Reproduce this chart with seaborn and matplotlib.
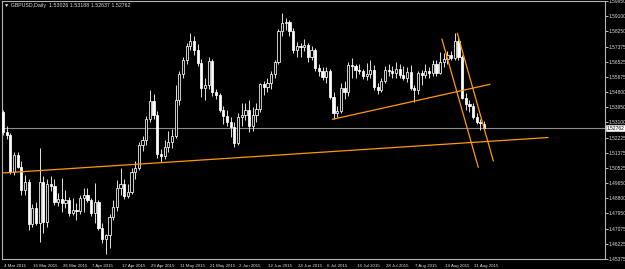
import matplotlib
matplotlib.use("Agg")
import matplotlib.pyplot as plt
import matplotlib.transforms as mtransforms
import seaborn as sns
import numpy as np
import pandas as pd

# ---- data (GBPUSD daily, 4 Mar 2015 .. 3 Sep 2015) ----
opens = [1.5368, 1.5255, 1.5238, 1.5030, 1.5125, 1.5060, 1.4930, 1.4975, 1.4735, 1.4825,
         1.4740, 1.4975, 1.4745, 1.4960, 1.4950, 1.4860, 1.4875, 1.4855, 1.4870, 1.4800,
         1.4815, 1.4810, 1.4880, 1.4900, 1.4870, 1.4800, 1.4860, 1.4712, 1.4650, 1.4673,
         1.4775, 1.4830, 1.4938, 1.4960, 1.4895, 1.4915, 1.5030, 1.5050, 1.5180, 1.5210,
         1.5328, 1.5430, 1.5350, 1.5130, 1.5120, 1.5170, 1.5200, 1.5230, 1.5435, 1.5583,
         1.5662, 1.5740, 1.5769, 1.5718, 1.5645, 1.5503, 1.5520, 1.5655, 1.5480, 1.5465,
         1.5380, 1.5345, 1.5310, 1.5285, 1.5195, 1.5340, 1.5350, 1.5380, 1.5290, 1.5350,
         1.5385, 1.5526, 1.5510, 1.5530, 1.5580, 1.5650, 1.5825, 1.5870, 1.5875, 1.5825,
         1.5718, 1.5740, 1.5735, 1.5745, 1.5680, 1.5720, 1.5616, 1.5600, 1.5565, 1.5600,
         1.5453, 1.5362, 1.5375, 1.5505, 1.5480, 1.5635, 1.5630, 1.5605, 1.5600, 1.5570,
         1.5580, 1.5605, 1.5509, 1.5495, 1.5545, 1.5605, 1.5600, 1.5590, 1.5610, 1.5577,
         1.5560, 1.5594, 1.5504, 1.5490, 1.5590, 1.5575, 1.5600, 1.5590, 1.5640, 1.5590,
         1.5650, 1.5670, 1.5690, 1.5673, 1.5769, 1.5678, 1.5447, 1.5415, 1.5400, 1.5340,
         1.5310, 1.53026]
highs = [1.5380, 1.5290, 1.5250, 1.5140, 1.5140, 1.5090, 1.5010, 1.4990, 1.4850, 1.4860,
         1.5165, 1.5006, 1.4990, 1.5006, 1.4990, 1.4910, 1.4995, 1.4930, 1.4890, 1.4880,
         1.4855, 1.4900, 1.4938, 1.4940, 1.4880, 1.4965, 1.4870, 1.4740, 1.4680, 1.4790,
         1.4870, 1.4985, 1.5051, 1.4990, 1.4960, 1.5050, 1.5090, 1.5200, 1.5235, 1.5345,
         1.5490, 1.5470, 1.5375, 1.5160, 1.5210, 1.5260, 1.5270, 1.5520, 1.5600, 1.5680,
         1.5760, 1.5814, 1.5800, 1.5750, 1.5670, 1.5560, 1.5680, 1.5670, 1.5500, 1.5475,
         1.5400, 1.5380, 1.5340, 1.5310, 1.5360, 1.5420, 1.5420, 1.5436, 1.5395, 1.5420,
         1.5530, 1.5545, 1.5560, 1.5600, 1.5660, 1.5835, 1.5925, 1.5900, 1.5890, 1.5840,
         1.5765, 1.5760, 1.5780, 1.5760, 1.5740, 1.5730, 1.5640, 1.5620, 1.5620, 1.5610,
         1.5480, 1.5400, 1.5530, 1.5545, 1.5650, 1.5675, 1.5640, 1.5640, 1.5610, 1.5645,
         1.5660, 1.5635, 1.5530, 1.5560, 1.5625, 1.5640, 1.5630, 1.5650, 1.5640, 1.5630,
         1.5620, 1.5635, 1.5520, 1.5600, 1.5605, 1.5640, 1.5620, 1.5660, 1.5660, 1.5707,
         1.5700, 1.5715, 1.5710, 1.5814, 1.5790, 1.5690, 1.5475, 1.5435, 1.5420, 1.5360,
         1.5330, 1.53188]
lows = [1.5240, 1.5215, 1.5020, 1.5010, 1.5050, 1.4900, 1.4900, 1.4700, 1.4720, 1.4730,
        1.4635, 1.4684, 1.4720, 1.4920, 1.4840, 1.4835, 1.4803, 1.4825, 1.4780, 1.4785,
        1.4760, 1.4790, 1.4805, 1.4860, 1.4780, 1.4740, 1.4700, 1.4628, 1.4565, 1.4600,
        1.4755, 1.4810, 1.4900, 1.4875, 1.4880, 1.4905, 1.4990, 1.5040, 1.5150, 1.5180,
        1.5310, 1.5330, 1.5110, 1.5085, 1.5105, 1.5140, 1.5165, 1.5220, 1.5410, 1.5560,
        1.5640, 1.5720, 1.5690, 1.5630, 1.5450, 1.5436, 1.5500, 1.5460, 1.5440, 1.5370,
        1.5300, 1.5290, 1.5227, 1.5170, 1.5180, 1.5290, 1.5320, 1.5255, 1.5260, 1.5310,
        1.5370, 1.5465, 1.5480, 1.5500, 1.5560, 1.5640, 1.5800, 1.5830, 1.5800, 1.5700,
        1.5680, 1.5680, 1.5710, 1.5650, 1.5660, 1.5600, 1.5570, 1.5550, 1.5530, 1.5440,
        1.5330, 1.5340, 1.5360, 1.5440, 1.5460, 1.5560, 1.5560, 1.5580, 1.5555, 1.5550,
        1.5560, 1.5495, 1.5470, 1.5480, 1.5530, 1.5570, 1.5560, 1.5560, 1.5560, 1.5550,
        1.5540, 1.5490, 1.5425, 1.5470, 1.5520, 1.5560, 1.5560, 1.5570, 1.5570, 1.5580,
        1.5620, 1.5640, 1.5660, 1.5660, 1.5660, 1.5440, 1.5380, 1.5370, 1.5330, 1.5300,
        1.5265, 1.52637]
closes = [1.5255, 1.5238, 1.5030, 1.5125, 1.5060, 1.4930, 1.4975, 1.4735, 1.4825, 1.4740,
          1.4975, 1.4745, 1.4960, 1.4950, 1.4860, 1.4875, 1.4855, 1.4870, 1.4800, 1.4815,
          1.4810, 1.4880, 1.4900, 1.4870, 1.4800, 1.4860, 1.4712, 1.4650, 1.4673, 1.4775,
          1.4830, 1.4938, 1.4960, 1.4895, 1.4915, 1.5030, 1.5050, 1.5180, 1.5210, 1.5328,
          1.5430, 1.5350, 1.5130, 1.5120, 1.5170, 1.5200, 1.5230, 1.5435, 1.5583, 1.5662,
          1.5740, 1.5769, 1.5718, 1.5645, 1.5503, 1.5520, 1.5655, 1.5480, 1.5465, 1.5380,
          1.5345, 1.5310, 1.5285, 1.5195, 1.5340, 1.5350, 1.5380, 1.5290, 1.5350, 1.5385,
          1.5526, 1.5510, 1.5530, 1.5580, 1.5650, 1.5825, 1.5870, 1.5875, 1.5825, 1.5718,
          1.5740, 1.5735, 1.5745, 1.5680, 1.5720, 1.5616, 1.5600, 1.5565, 1.5600, 1.5453,
          1.5362, 1.5375, 1.5505, 1.5480, 1.5635, 1.5630, 1.5605, 1.5600, 1.5570, 1.5580,
          1.5605, 1.5509, 1.5495, 1.5545, 1.5605, 1.5600, 1.5590, 1.5610, 1.5577, 1.5560,
          1.5594, 1.5504, 1.5490, 1.5590, 1.5575, 1.5600, 1.5590, 1.5640, 1.5590, 1.5650,
          1.5670, 1.5690, 1.5673, 1.5769, 1.5678, 1.5447, 1.5415, 1.5400, 1.5340, 1.5310,
          1.5303, 1.52762]

date_labels = ["4 Mar 2015", "16 Mar 2015", "26 Mar 2015", "7 Apr 2015", "17 Apr 2015",
               "29 Apr 2015", "11 May 2015", "21 May 2015", "2 Jun 2015", "12 Jun 2015",
               "24 Jun 2015", "6 Jul 2015", "16 Jul 2015", "28 Jul 2015", "7 Aug 2015",
               "19 Aug 2015", "31 Aug 2015"]
date_label_bars = list(range(0, 129, 8))

price_ticks = [1.59950, 1.59100, 1.58250, 1.57375, 1.56525, 1.55675, 1.54800, 1.53950,
               1.53100, 1.52225, 1.51375, 1.50525, 1.49650, 1.48800, 1.47950, 1.47075,
               1.46225, 1.45375]

current_price = 1.52762
title_text = "\u25BC GBPUSD,Daily  1.53026 1.53188 1.52637 1.52762"

# trend lines: (bar index, price) anchor pairs
trend_long_x = [-0.3, 148.4]
trend_long_y = [1.50233, 1.52238]
trend_mid_x = [89.7, 132.6]
trend_mid_y = [1.53267, 1.55244]
chan_a_x = [119.5, 129.4]
chan_a_y = [1.57803, 1.50554]
chan_b_x = [123.7, 133.5]
chan_b_y = [1.58125, 1.50910]

df = pd.DataFrame({"open": opens, "high": highs, "low": lows, "close": closes})
df["bar"] = np.arange(len(df))

# ---- figure ----
sns.set_theme(style="dark", rc={"axes.facecolor": "black", "figure.facecolor": "black"})
plt.rcParams["font.family"] = ["Liberation Sans", "DejaVu Sans"]
W, H = 625, 269
fig = plt.figure(figsize=(W / 100, H / 100), dpi=100)
ax = fig.add_axes([2 / W, (H - 259) / H, (605 - 2) / W, (259 - 1) / H])
ax.set_facecolor("black")

fg = "#dcdcdc"
fs = 3.5
fsx = 3.2
# wicks
ax.vlines(df["bar"], df["low"], df["high"], color="#e0e0e0", lw=0.7, zorder=2)
# bodies
bull = df["close"] >= df["open"]
bw = 0.6
for is_bull, sub in [(True, df[bull]), (False, df[~bull])]:
    bottom = np.minimum(sub["open"], sub["close"])
    height = np.abs(sub["close"] - sub["open"])
    height = np.maximum(height, 0.00012)
    ax.bar(sub["bar"], height, bottom=bottom, width=bw,
           color="black" if is_bull else "white", edgecolor="white",
           linewidth=0.55, zorder=3)

# current price line
ax.axhline(current_price, color="#8c8c8c", lw=0.8, zorder=1)

# trend lines
orange = "#ff9a00"
for xs, ys in [(trend_long_x, trend_long_y), (trend_mid_x, trend_mid_y),
               (chan_a_x, chan_a_y), (chan_b_x, chan_b_y)]:
    sns.lineplot(x=xs, y=ys, ax=ax, color=orange, lw=0.9, zorder=4, estimator=None,
                 sort=False)

ax.set_xlim(-0.27, 163.9)
ax.set_ylim(price_ticks[-1], price_ticks[0])

# axes styling
for s in ax.spines.values():
    s.set_color("#b4b4b4")
    s.set_linewidth(0.8)
    s.set_visible(True)
ax.grid(False)

ax.yaxis.tick_right()
ax.set_yticks(price_ticks)
ax.set_yticklabels([f"{p:.5f}" for p in price_ticks])
ax.tick_params(axis="y", colors=fg, labelsize=fs, length=1.8, width=0.6, pad=0.6,
               direction="out", labelcolor=fg)

ax.set_xticks(date_label_bars)
ax.set_xticklabels(date_labels, ha="left")
ax.tick_params(axis="x", colors=fg, labelsize=fsx, length=3, width=0.6, pad=0.3,
               direction="out", labelcolor=fg)
offset = mtransforms.ScaledTranslation(1 / 100, 0, fig.dpi_scale_trans)
for lab in ax.get_xticklabels():
    lab.set_transform(lab.get_transform() + offset)

ax.set_xlabel("")
ax.set_ylabel("")

# current price box
ax.annotate(f"{current_price:.5f}", xy=(1.0, current_price),
            xycoords=("axes fraction", "data"), xytext=(1.4, 0),
            textcoords="offset points", fontsize=fs, color="black",
            va="center", ha="left",
            bbox=dict(boxstyle="square,pad=0.1", fc="white", ec="white", lw=0.4),
            annotation_clip=False)

fig.text(4 / W, 1 - 5.5 / H, title_text, fontsize=3.8, color=fg, ha="left", va="center")

fig.savefig("out.png", dpi=100, facecolor="black")
